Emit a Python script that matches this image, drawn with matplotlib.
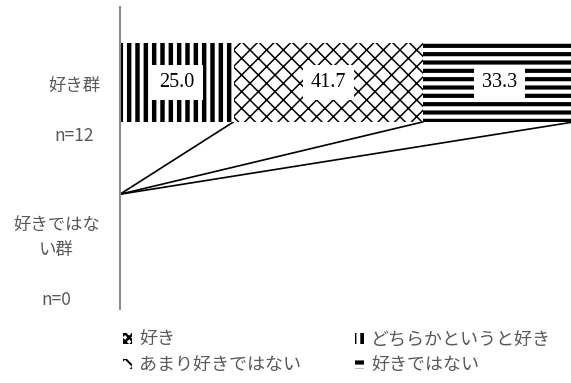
import matplotlib
matplotlib.use("Agg")
import matplotlib.pyplot as plt
import numpy as np
from matplotlib.patches import Patch
from matplotlib.transforms import blended_transform_factory

plt.rcParams['font.family'] = ['Noto Sans CJK JP', 'DejaVu Sans']

# ---- data ----
categories = ["好き群\n\nn=12", "好きではな\nい群\n\nn=0"]
series_names = ["好き", "どちらかというと好き", "あまり好きではない", "好きではない"]
suki = [0.0, 0.0]
dochiraka_suki = [25.0, 0.0]
amari_suki_dewanai = [41.7, 0.0]
suki_dewanai = [33.3, 0.0]
series_values = [suki, dochiraka_suki, amari_suki_dewanai, suki_dewanai]

hatches = ['xxxx', '||', 'xx', '--']
hatch_lws = [1.6, 3.2, 1.1, 3.0]

fig = plt.figure(figsize=(5.71, 3.83), dpi=100)
ax = fig.add_axes([120 / 571, 1 - 309 / 383, 455 / 571, 302 / 383])

y = np.arange(len(categories))
bar_h = 0.52
left = np.zeros(len(categories))
ends = []
handles = []
for name, vals, hatch, hlw in zip(series_names, series_values, hatches, hatch_lws):
    vals = np.array(vals, dtype=float)
    with plt.rc_context({'hatch.linewidth': hlw}):
        bars = ax.barh(y, vals, left=left, height=bar_h, color='white',
                       edgecolor='black', linewidth=0, hatch=hatch, zorder=2)
        for b in bars:
            if hasattr(b, 'set_hatch_linewidth'):
                b.set_hatch_linewidth(hlw)
        hp = Patch(facecolor='white', edgecolor='black', linewidth=0, hatch=hatch, label=name)
    handles.append(hp)
    for yi, l, v in zip(y, left, vals):
        if v > 0:
            ax.text(l + v / 2, yi, f"{v:.1f}", ha='center', va='center',
                    fontsize=14.5, family='Liberation Serif', color='black', zorder=5,
                    bbox=dict(boxstyle='square,pad=0.4', facecolor='white', edgecolor='none'))
    left = left + vals
    ends.append(left.copy())

# series lines
for e in ends:
    ax.plot([e[0], e[1]], [y[0] + bar_h / 2, y[1] - bar_h / 2], color='black',
            lw=1.2, zorder=1.5, solid_capstyle='butt')

ax.set_xlim(0, 100)
ax.set_ylim(1.5, -0.5)
for s in ['top', 'right', 'bottom']:
    ax.spines[s].set_visible(False)
ax.spines['left'].set_color('#8c8c8c')
ax.spines['left'].set_linewidth(1.5)
ax.spines['left'].set_zorder(3)
ax.set_xticks([])
ax.set_yticks([])

# category labels
trans = blended_transform_factory(fig.transFigure, ax.transData)
for yi, lab in zip(y, categories):
    ax.text(100 / 571, yi + 0.19, lab, transform=trans, ha='right', va='center',
            multialignment='center', fontsize=12.5, color='#595959', linespacing=1.5)

order = [0, 2, 1, 3]
leg_hatch_lws = [1.8, 1.4, 3.2, 3.0]
leg = fig.legend([handles[i] for i in order], [series_names[i] for i in order], ncol=2,
                 loc='upper left', bbox_to_anchor=(123 / 571, 1 - 331 / 383), frameon=False,
                 fontsize=13, handlelength=0.5, handleheight=0.5, handletextpad=0.39,
                 columnspacing=3.0, labelspacing=0.42, borderpad=0, borderaxespad=0,
                 labelcolor='#595959')
for p, i in zip(leg.get_patches(), order):
    if hasattr(p, 'set_hatch_linewidth'):
        p.set_hatch_linewidth(leg_hatch_lws[order.index(i)])

fig.savefig('out.png', dpi=100)
